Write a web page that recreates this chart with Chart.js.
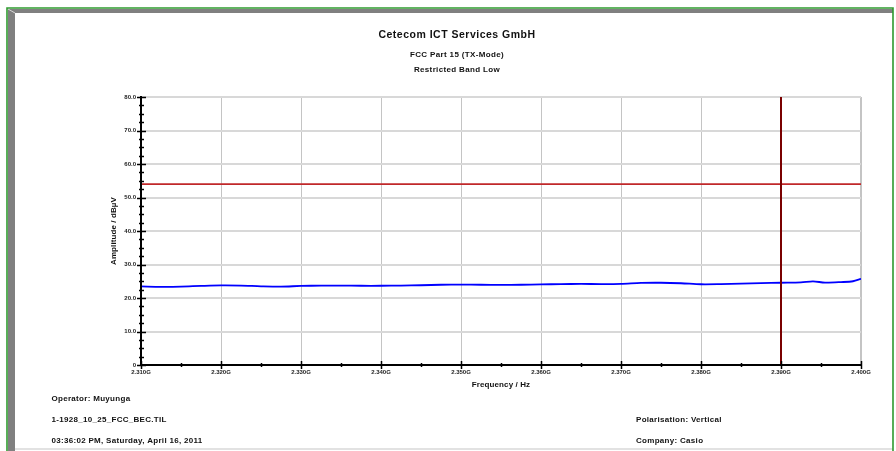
<!DOCTYPE html>
<html>
<head>
<meta charset="utf-8">
<script src="https://cdn.jsdelivr.net/npm/chart.js@4.4.1/dist/chart.umd.min.js"></script>
<style>
  html, body { margin: 0; padding: 0; background: #fff; }
  #wrap { position: relative; width: 896px; height: 451px; overflow: hidden; }
  #frame { position: absolute; left: 0; top: 0; }
  #chart { position: absolute; left: 0; top: 0; }
</style>
</head>
<body>
<div id="wrap">
  <svg id="frame" width="896" height="451">
    <rect x="8" y="9" width="885" height="4" fill="#808080"/>
    <rect x="8" y="9" width="7" height="442" fill="#808080"/>
    <line x1="8" y1="9" x2="15" y2="13" stroke="#d8d8d8" stroke-width="1"/>
    <rect x="15" y="448" width="878" height="2" fill="#e2e2e2"/>
    <polyline points="7,451 7,8 893,8 893,451" fill="none" stroke="#2f9a2f" stroke-width="1.6"/>
  </svg>
  <canvas id="chart" width="896" height="451"></canvas>
</div>
<script>
// Measured sweep, frequency in MHz
const freqMHz = [2310, 2312.5, 2315, 2317.5, 2320, 2322.5, 2325, 2327.5, 2330, 2332.5,
                 2335, 2337.5, 2340, 2342.5, 2345, 2347.5, 2350, 2352.5, 2355, 2357.5,
                 2360, 2362.5, 2365, 2367.5, 2370, 2372.5, 2375, 2377.5, 2380, 2382.5,
                 2385, 2387.5, 2390, 2392.5, 2394, 2395.5, 2397.5, 2399, 2400];
const amplitude = [23.45, 23.35, 23.4, 23.6, 23.75, 23.7, 23.5, 23.4, 23.6, 23.7,
                   23.7, 23.65, 23.65, 23.7, 23.8, 23.95, 24.0, 23.95, 23.9, 23.95,
                   24.05, 24.15, 24.2, 24.15, 24.2, 24.5, 24.55, 24.4, 24.1, 24.15,
                   24.3, 24.45, 24.55, 24.65, 24.95, 24.6, 24.75, 25.0, 25.75];

// Limit line and band-edge marker
const limitFreq = [2310, 2400];
const limitLevel = [54, 54];
const markerFreq = [2390, 2390];
const markerLevel = [0, 80];

// Axis ranges and tick steps
const xRange = [2310, 2400];
const xMajorStep = 10, xMinorStep = 5;
const yRange = [0, 80];
const yMajorStep = 10, yMinorStep = 2.5;

const titleLines = ['Cetecom ICT Services GmbH', 'FCC Part 15 (TX-Mode)', 'Restricted Band Low'];
const yAxisTitle = 'Amplitude / dBµV';
const xAxisTitle = 'Frequency / Hz';
const infoLeft = ['Operator: Muyunga', '1-1928_10_25_FCC_BEC.TIL', '03:36:02 PM, Saturday, April 16, 2011'];
const infoRight = ['Polarisation: Vertical', 'Company: Casio'];

const FONT = "'Liberation Sans', Arial, sans-serif";

const pts = (xs, ys) => xs.map((x, i) => ({ x, y: ys[i] }));

// Axis lines with ticks crossing them, plus all text labels
const decorations = {
  id: 'decorations',
  afterDatasetsDraw(chart) {
    const { ctx, chartArea: a, scales: { x, y } } = chart;
    ctx.save();
    ctx.strokeStyle = '#000';
    ctx.lineWidth = 1.5;
    // y ticks
    for (let v = yRange[0]; v <= yRange[1] + 1e-9; v += yMinorStep) {
      const py = Math.round(y.getPixelForValue(v)) + 0.5;
      const major = Math.abs(v / yMajorStep - Math.round(v / yMajorStep)) < 1e-6;
      ctx.beginPath();
      ctx.moveTo(a.left - (major ? 4 : 2), py);
      ctx.lineTo(a.left + (major ? 5 : 3), py);
      ctx.stroke();
    }
    // x ticks
    for (let v = xRange[0]; v <= xRange[1] + 1e-9; v += xMinorStep) {
      const px = Math.round(x.getPixelForValue(v)) + 0.5;
      const major = Math.abs(v / xMajorStep - Math.round(v / xMajorStep)) < 1e-6;
      ctx.beginPath();
      ctx.moveTo(px, a.bottom - (major ? 4 : 2));
      ctx.lineTo(px, a.bottom + (major ? 4 : 2));
      ctx.stroke();
    }
    // axis lines
    ctx.lineWidth = 2;
    ctx.beginPath();
    ctx.moveTo(a.left, a.top - 1);
    ctx.lineTo(a.left, a.bottom);
    ctx.lineTo(a.right + 1, a.bottom);
    ctx.stroke();

    ctx.fillStyle = '#111';
    // titles
    ctx.textAlign = 'center';
    ctx.textBaseline = 'alphabetic';
    ctx.font = `bold 10.5px ${FONT}`;
    ctx.letterSpacing = '0.5px';
    ctx.fillText(titleLines[0], 457, 37.5);
    ctx.font = `bold 8px ${FONT}`;
    ctx.letterSpacing = '0.35px';
    ctx.fillText(titleLines[1], 457, 56.5);
    ctx.fillText(titleLines[2], 457, 71.7);

    // axis titles
    ctx.letterSpacing = '0.1px';
    ctx.fillText(xAxisTitle, (a.left + a.right) / 2, 387);
    ctx.save();
    ctx.translate(116, (a.top + a.bottom) / 2);
    ctx.rotate(-Math.PI / 2);
    ctx.fillText(yAxisTitle, 0, 0);
    ctx.restore();

    // info block
    ctx.textAlign = 'left';
    ctx.letterSpacing = '0.3px';
    const rowsY = [400.7, 421.7, 443.3];
    infoLeft.forEach((t, i) => ctx.fillText(t, 51.5, rowsY[i]));
    infoRight.forEach((t, i) => ctx.fillText(t, 636, rowsY[i + 1]));
    ctx.restore();
  }
};

new Chart(document.getElementById('chart'), {
  type: 'line',
  data: {
    datasets: [
      { data: pts(markerFreq, markerLevel), borderColor: '#7a0000', borderWidth: 2, pointRadius: 0, tension: 0 },
      { data: pts(limitFreq, limitLevel), borderColor: '#c0282a', borderWidth: 1.6, pointRadius: 0, tension: 0 },
      { data: pts(freqMHz, amplitude), borderColor: '#0000ff', borderWidth: 1.8, pointRadius: 0, tension: 0.3 }
    ]
  },
  options: {
    responsive: false,
    animation: false,
    events: [],
    layout: { padding: { left: 0, right: 35, top: 97, bottom: 0 } },
    plugins: { legend: { display: false }, tooltip: { enabled: false }, title: { display: false } },
    scales: {
      x: {
        type: 'linear', min: xRange[0], max: xRange[1],
        border: { display: false },
        grid: {
          drawTicks: false,
          color: c => c.tick.value === xRange[0] ? 'rgba(0,0,0,0)' : '#c4c4c4',
          lineWidth: c => c.tick.value === xRange[1] ? 2 : 1
        },
        ticks: {
          stepSize: xMajorStep, autoSkip: false, maxRotation: 0, padding: 4,
          color: '#222', font: { family: FONT, size: 6, weight: 'bold' },
          callback: v => (v / 1000).toFixed(3) + 'G'
        },
        afterFit: s => { s.height = 86; }
      },
      y: {
        min: yRange[0], max: yRange[1],
        border: { display: false },
        grid: {
          drawTicks: false,
          color: c => c.tick.value === yRange[0] ? 'rgba(0,0,0,0)' : '#d8d8d8',
          lineWidth: 2
        },
        ticks: {
          stepSize: yMajorStep, padding: 5,
          color: '#222', font: { family: FONT, size: 6, weight: 'bold' },
          callback: v => v === 0 ? '0' : v.toFixed(1)
        },
        afterFit: s => { s.width = 141; }
      }
    }
  },
  plugins: [decorations]
});
</script>
</body>
</html>
